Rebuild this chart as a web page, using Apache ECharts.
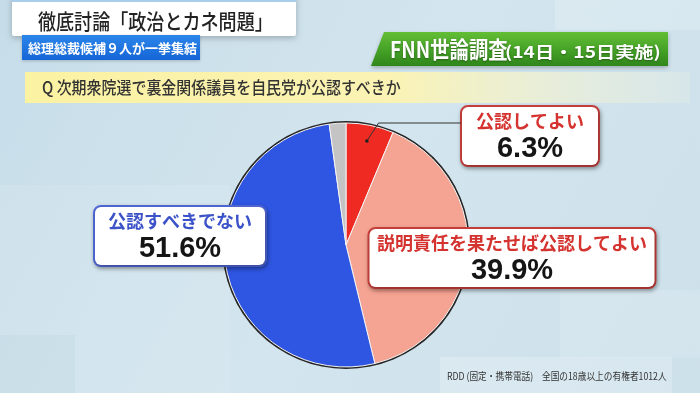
<!DOCTYPE html>
<html><head><meta charset="utf-8">
<script src="https://cdn.jsdelivr.net/npm/echarts@6/dist/echarts.min.js"></script>
<style>html,body{margin:0;padding:0;background:#cfe2ec}#c{width:700px;height:393px}</style>
</head><body><div id="c"></div>
<script>
// ---- data ----
const categories = ['公認してよい', '説明責任を果たせば公認してよい', '公認すべきでない', 'わからない・答えない'];
const values = [6.3, 39.9, 51.6, 2.2];
const showLabel = [true, true, true, false];
const titleText = '徹底討論「政治とカネ問題」';
const subtitleText = '総理総裁候補９人が一挙集結';
const surveyTitle = 'FNN世論調査';
const surveyDate = '(14日・15日実施)';
const questionText = 'Q 次期衆院選で裏金関係議員を自民党が公認すべきか';
const noteText = 'RDD (固定・携帯電話)　全国の18歳以上の有権者1012人';

// ---- styles / layout ----
const sliceColors = ['#ee2a22', '#f5a392', '#2f56e2', '#c4c4c4'];
const labelTitleColors = ['#d4332f', '#d4332f', '#3b52c8', '#333'];
const labelBorderColors = ['#c9403c', '#c9403c', '#5168d6', '#999'];
const labelWidths = [136, 285, 170, 0];
const labelCenters = [[530, 136], [512, 258], [180, 236], [0, 0]];
const pieCenter = [346, 245];
const pieRadius = 122;

const CJK = '"Noto Sans CJK JP", "Noto Sans", sans-serif';
const chart = echarts.init(document.getElementById('c'), null, {renderer: 'canvas'});

const total = values.reduce((a, b) => a + b, 0);
function midAngle(i) {
  let cum = 0;
  for (let k = 0; k < i; k++) cum += values[k];
  return (cum + values[i] / 2) / total * Math.PI * 2;
}
function leaderPoints(i) {
  const th = midAngle(i);
  const r = pieRadius * 0.87;
  const dot = [pieCenter[0] + r * Math.sin(th), pieCenter[1] - r * Math.cos(th)];
  const boxLeft = labelCenters[i][0] - labelWidths[i] / 2 - 1;
  const yLine = labelCenters[i][1] - 13;
  const elbow = [dot[0] + (dot[1] - yLine) * 0.65, yLine];
  return [dot, elbow, [boxLeft, yLine]];
}
const lp0 = leaderPoints(0);

const dataItems = categories.map((name, i) => ({
  name: name,
  value: values[i],
  itemStyle: {color: sliceColors[i]},
  label: {
    show: showLabel[i],
    width: labelWidths[i],
    borderColor: labelBorderColors[i],
    rich: {
      n: {fontSize: 18, fontWeight: 'bold', color: labelTitleColors[i], fontFamily: CJK, lineHeight: 25, align: 'center'},
      v: {fontSize: 29, fontWeight: 'bold', color: '#151515', fontFamily: '"Liberation Sans", Arial, sans-serif', lineHeight: 30, align: 'center'}
    }
  },
  labelLine: {show: false}
}));

function txt(x, y, text, font, fill, sx, extra) {
  return Object.assign({type: 'text', z: 7, x: x, y: y, scaleX: sx, scaleY: 1,
    style: Object.assign({x: 0, y: 0, text: text, fill: fill, font: font, textAlign: 'left', textVerticalAlign: 'middle'}, extra || {})});
}
const shadowTxt = {textShadowColor: 'rgba(0,0,0,0.35)', textShadowBlur: 2, textShadowOffsetY: 1};

const option = {
  animation: false,
  backgroundColor: {
    type: 'linear', x: 0, y: 0, x2: 1, y2: 1,
    colorStops: [{offset: 0, color: '#c6dde9'}, {offset: 0.5, color: '#d3e5ee'}, {offset: 1, color: '#cde1eb'}]
  },
  graphic: [
    // background panels
    {type: 'rect', silent: true, z: 0, shape: {x: 0, y: 185, width: 230, height: 208}, style: {fill: 'rgba(255,255,255,0.10)'}},
    {type: 'rect', silent: true, z: 0, shape: {x: 0, y: 335, width: 75, height: 58}, style: {fill: 'rgba(160,188,200,0.12)'}},
    {type: 'rect', silent: true, z: 0, shape: {x: 555, y: 0, width: 145, height: 30}, style: {fill: 'rgba(255,255,255,0.18)'}},
    {type: 'rect', silent: true, z: 0, shape: {x: 560, y: 290, width: 140, height: 68}, style: {fill: 'rgba(255,255,255,0.12)'}},
    {type: 'rect', silent: true, z: 0, shape: {x: 440, y: 357, width: 232, height: 36}, style: {fill: 'rgba(255,255,255,0.22)'}},
    // title box
    {type: 'rect', z: 5, shape: {x: 12, y: -4, width: 284, height: 40, r: 2},
      style: {fill: '#ffffff', shadowColor: 'rgba(0,0,0,0.25)', shadowBlur: 6, shadowOffsetY: 2}},
    {type: 'rect', z: 5, shape: {x: 12, y: -4, width: 284, height: 6}, style: {fill: '#a9cdea'}},
    txt(38, 21, titleText, '500 21px ' + CJK, '#222', 0.86),
    // subtitle box
    {type: 'rect', z: 6, shape: {x: 22, y: 35, width: 178, height: 25},
      style: {fill: {type: 'linear', x: 0, y: 0, x2: 0, y2: 1, colorStops: [{offset: 0, color: '#2b86ea'}, {offset: 1, color: '#1565d6'}]},
        shadowColor: 'rgba(0,0,0,0.2)', shadowBlur: 3, shadowOffsetY: 1}},
    txt(28, 48, subtitleText, 'bold 13px ' + CJK, '#fff', 1),
    // green survey box
    {type: 'polygon', z: 5, shape: {points: [[384, 32], [668, 32], [668, 66], [371, 66]]},
      style: {fill: {type: 'linear', x: 0, y: 0, x2: 0, y2: 1, colorStops: [{offset: 0, color: '#63be35'}, {offset: 0.55, color: '#44a126'}, {offset: 1, color: '#2f861a'}]},
        shadowColor: 'rgba(0,0,0,0.25)', shadowBlur: 4, shadowOffsetY: 2}},
    txt(390, 49, surveyTitle, 'bold 23px ' + CJK, '#fff', 0.84, shadowTxt),
    txt(505, 52, surveyDate, 'bold 16px ' + CJK, '#fff', 1.2, shadowTxt),
    // question bar
    {type: 'rect', z: 4, shape: {x: 25, y: 72, width: 665, height: 31},
      style: {fill: {type: 'linear', x: 0, y: 0, x2: 1, y2: 0, colorStops: [{offset: 0, color: '#fbf2a2'}, {offset: 0.55, color: '#faf3b4'}, {offset: 1, color: 'rgba(245,245,220,0.2)'}]}}},
    txt(42, 88, questionText, '500 17px ' + CJK, '#333', 0.88),
    // note
    txt(447, 376, noteText, '10px ' + CJK, '#333', 0.87),
    // leader line and dot for the small slice (computed from data)
    {type: 'polyline', z: 20, shape: {points: lp0}, style: {stroke: '#333', lineWidth: 1, fill: null}},
    {type: 'circle', z: 21, shape: {cx: lp0[0][0], cy: lp0[0][1], r: 1.8}, style: {fill: '#222'}}
  ],
  series: [
    {
      type: 'pie', silent: true, z: 1,
      center: pieCenter, radius: [pieRadius - 1, pieRadius + 2],
      label: {show: false}, labelLine: {show: false},
      itemStyle: {color: '#262626', borderWidth: 0},
      data: [{value: 1, name: 'outline'}]
    },
    {
      type: 'pie', z: 2,
      center: pieCenter, radius: [0, pieRadius],
      startAngle: 90, clockwise: true,
      itemStyle: {borderColor: '#f4f4f4', borderWidth: 1},
      label: {
        show: true, position: 'outside',
        formatter: p => '{n|' + p.name + '}\n{v|' + p.value.toFixed(1) + '%}',
        backgroundColor: '#ffffff', borderWidth: 2, borderRadius: 6,
        padding: [2, 0, 1, 0], align: 'center',
        shadowColor: 'rgba(0,0,0,0.3)', shadowBlur: 4, shadowOffsetX: 1, shadowOffsetY: 2
      },
      labelLine: {show: false},
      labelLayout: function (params) {
        const c = labelCenters[params.dataIndex];
        return {x: c[0], y: c[1], align: 'center', verticalAlign: 'middle'};
      },
      data: dataItems
    }
  ]
};
chart.setOption(option);
</script></body></html>
